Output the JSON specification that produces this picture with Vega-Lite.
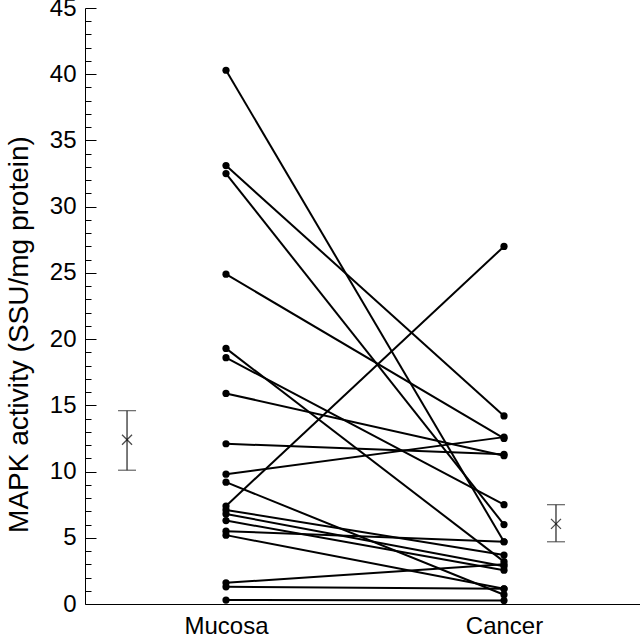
{
  "$schema": "https://vega.github.io/schema/vega-lite/v6.json",
  "width": 555,
  "height": 596,
  "autosize": {"type": "none"},
  "padding": {"left": 85, "top": 8, "right": 0, "bottom": 32},
  "background": "white",
  "config": {
    "view": {"stroke": null},
    "font": "Liberation Sans",
    "axis": {"grid": false, "domainColor": "black", "tickColor": "black", "labelColor": "black", "titleColor": "black", "labelFont": "Liberation Sans", "titleFont": "Liberation Sans", "titleFontWeight": "normal", "labelFontSize": 24, "titleFontSize": 28}
  },
  "datasets": {
    "pairs": [
      {"id": 1, "pos": 1, "value": 40.3}, {"id": 1, "pos": 2, "value": 4.7},
      {"id": 2, "pos": 1, "value": 33.1}, {"id": 2, "pos": 2, "value": 14.2},
      {"id": 3, "pos": 1, "value": 32.5}, {"id": 3, "pos": 2, "value": 6.0},
      {"id": 4, "pos": 1, "value": 24.9}, {"id": 4, "pos": 2, "value": 12.5},
      {"id": 5, "pos": 1, "value": 19.3}, {"id": 5, "pos": 2, "value": 3.2},
      {"id": 6, "pos": 1, "value": 18.6}, {"id": 6, "pos": 2, "value": 7.5},
      {"id": 7, "pos": 1, "value": 15.9}, {"id": 7, "pos": 2, "value": 11.2},
      {"id": 8, "pos": 1, "value": 12.1}, {"id": 8, "pos": 2, "value": 11.3},
      {"id": 9, "pos": 1, "value": 9.8}, {"id": 9, "pos": 2, "value": 12.6},
      {"id": 10, "pos": 1, "value": 9.2}, {"id": 10, "pos": 2, "value": 0.7},
      {"id": 11, "pos": 1, "value": 7.4}, {"id": 11, "pos": 2, "value": 27.0},
      {"id": 12, "pos": 1, "value": 7.1}, {"id": 12, "pos": 2, "value": 3.7},
      {"id": 13, "pos": 1, "value": 6.8}, {"id": 13, "pos": 2, "value": 2.85},
      {"id": 14, "pos": 1, "value": 6.3}, {"id": 14, "pos": 2, "value": 2.55},
      {"id": 15, "pos": 1, "value": 5.5}, {"id": 15, "pos": 2, "value": 4.7},
      {"id": 16, "pos": 1, "value": 5.2}, {"id": 16, "pos": 2, "value": 1.15},
      {"id": 17, "pos": 1, "value": 1.6}, {"id": 17, "pos": 2, "value": 3.0},
      {"id": 18, "pos": 1, "value": 1.3}, {"id": 18, "pos": 2, "value": 1.15},
      {"id": 19, "pos": 1, "value": 0.3}, {"id": 19, "pos": 2, "value": 0.26}
    ],
    "means": [
      {"pos": 0.644, "mean": 12.4, "lo": 10.1, "hi": 14.6},
      {"pos": 2.187, "mean": 6.05, "lo": 4.7, "hi": 7.5}
    ]
  },
  "layer": [
    {
      "data": {"name": "pairs"},
      "mark": {"type": "line", "color": "black", "strokeWidth": 2},
      "encoding": {
        "x": {"field": "pos", "type": "quantitative", "scale": {"domain": [0.4928, 2.4892], "nice": false, "zero": false},
          "axis": {"values": [1, 2], "labelExpr": "datum.value == 1 ? 'Mucosa' : 'Cancer'", "ticks": false, "title": null, "labelPadding": 10}},
        "y": {"field": "value", "type": "quantitative", "scale": {"domain": [0, 45], "nice": false},
          "axis": {"values": [0, 5, 10, 15, 20, 25, 30, 35, 40, 45], "tickSize": -11, "labelPadding": 20, "title": "MAPK activity (SSU/mg protein)", "titlePadding": 16, "titleY": 326}},
        "detail": {"field": "id"}
      }
    },
    {
      "data": {"name": "pairs"},
      "mark": {"type": "circle", "color": "black", "opacity": 1, "size": 52},
      "encoding": {
        "x": {"field": "pos", "type": "quantitative"},
        "y": {"field": "value", "type": "quantitative"}
      }
    },
    {
      "data": {"name": "pairs"},
      "mark": {"type": "point", "opacity": 0},
      "encoding": {
        "x": {"field": "pos", "type": "quantitative"},
        "y": {"field": "value", "type": "quantitative",
          "axis": {"orient": "left", "values": [1,2,3,4,6,7,8,9,11,12,13,14,16,17,18,19,21,22,23,24,26,27,28,29,31,32,33,34,36,37,38,39,41,42,43,44], "tickSize": -6, "labels": false, "domain": false, "title": null}}
      }
    },
    {
      "data": {"name": "means"},
      "mark": {"type": "rule", "color": "#333", "strokeWidth": 1.3},
      "encoding": {
        "x": {"field": "pos", "type": "quantitative"},
        "y": {"field": "lo", "type": "quantitative"},
        "y2": {"field": "hi"}
      }
    },
    {
      "data": {"name": "means"},
      "mark": {"type": "tick", "color": "#333", "orient": "horizontal", "size": 18, "thickness": 1.3},
      "encoding": {
        "x": {"field": "pos", "type": "quantitative"},
        "y": {"field": "lo", "type": "quantitative"}
      }
    },
    {
      "data": {"name": "means"},
      "mark": {"type": "tick", "color": "#333", "orient": "horizontal", "size": 18, "thickness": 1.3},
      "encoding": {
        "x": {"field": "pos", "type": "quantitative"},
        "y": {"field": "hi", "type": "quantitative"}
      }
    },
    {
      "data": {"name": "means"},
      "mark": {"type": "point", "shape": "M-1,-1L1,1M1,-1L-1,1", "filled": false, "color": "black", "strokeWidth": 1.3, "size": 100},
      "encoding": {
        "x": {"field": "pos", "type": "quantitative"},
        "y": {"field": "mean", "type": "quantitative"}
      }
    }
  ],
  "resolve": {"axis": {"y": "independent"}}
}
